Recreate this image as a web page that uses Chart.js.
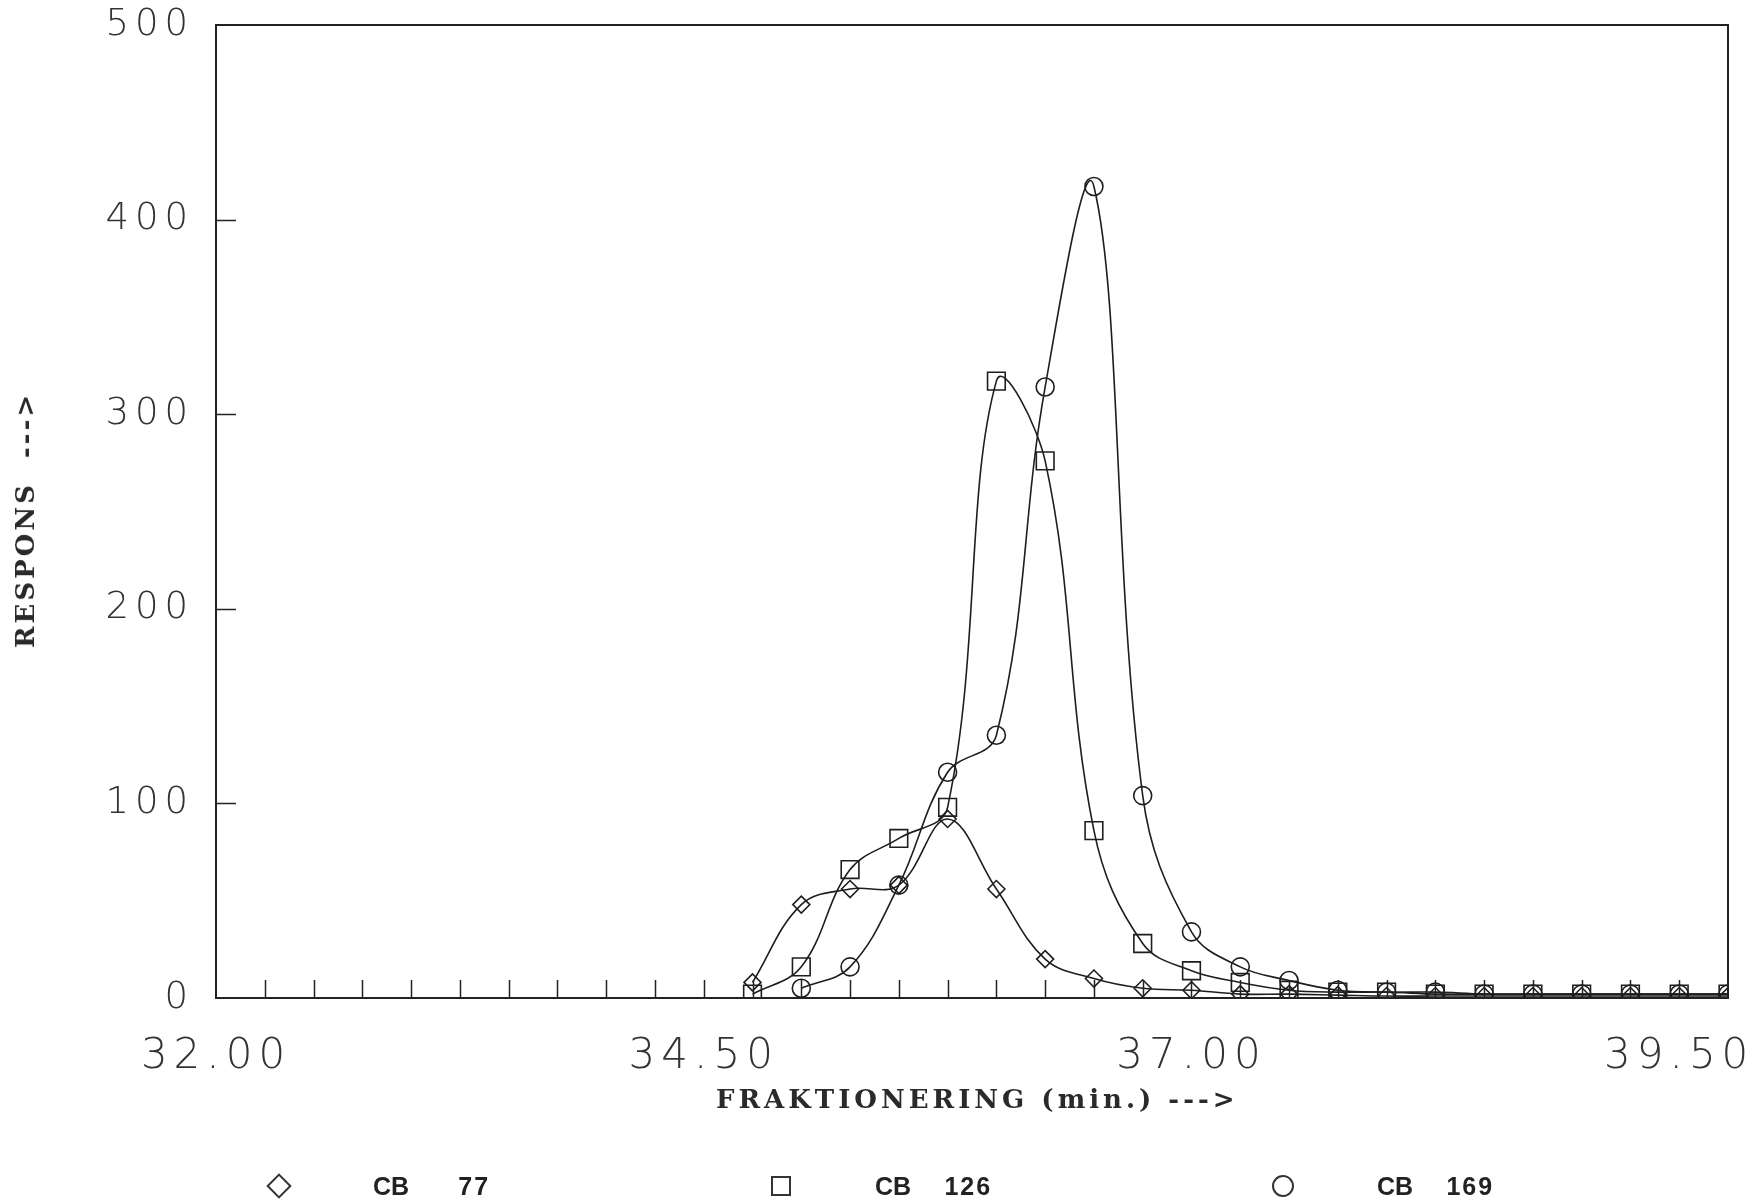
<!DOCTYPE html>
<html lang="sv">
<head>
<meta charset="utf-8">
<title>Respons mot fraktionering</title>
<script src="https://cdn.jsdelivr.net/npm/chart.js@4.4.1/dist/chart.umd.min.js"></script>
<style>
    html, body { margin: 0; padding: 0; background: #fff; }
    #ram { position: relative; width: 1754px; height: 1202px; background: #fff; overflow: hidden; }
    #ram canvas { position: absolute; left: 0; top: 0; }
    .axeltitel { position: absolute; font-family: 'DejaVu Serif', serif; font-weight: bold; color: #2a2a2a; white-space: pre; line-height: 26px; }
    #titel-x { left: 716px; top: 1086px; font-size: 26px; letter-spacing: 4px; }
    #titel-y { left: 25px; top: 520px; font-size: 26px; letter-spacing: 3px; transform: translate(-50%, -50%) rotate(-90deg); }
    #legend { position: absolute; left: 266px; top: 1173px; display: flex; }
    .post { width: 502px; height: 26px; display: flex; align-items: center; font-family: 'Liberation Sans', Arial, sans-serif; font-weight: bold; font-size: 25px; color: #222; }
    .symbol { position: relative; width: 26px; height: 26px; margin-right: 81px; flex: none; }
    .symbol::after { content: ''; position: absolute; box-sizing: border-box; border: 2px solid #333; }
    .romb::after { width: 18px; height: 18px; left: 4px; top: 4px; transform: rotate(45deg); }
    .kvadrat::after { width: 20px; height: 20px; left: 3px; top: 3px; }
    .cirkel::after { width: 22px; height: 22px; left: 2px; top: 2px; border-radius: 50%; }
    .nr { width: 81px; text-align: right; letter-spacing: 2px; }
</style>
</head>
<body>
<div id="ram">
    <canvas id="diagram"></canvas>
    <div id="titel-y" class="axeltitel">RESPONS  ---&gt;</div>
    <div id="titel-x" class="axeltitel">FRAKTIONERING (min.) ---&gt;</div>
    <div id="legend"></div>
</div>
<script>
// Värden
const fraktioner = [34.75, 35.00, 35.25, 35.50, 35.75, 36.00, 36.25, 36.50, 36.75, 37.00,
    37.25, 37.50, 37.75, 38.00, 38.25, 38.50, 38.75, 39.00, 39.25, 39.50, 39.75];
const cb77 = [8, 48, 56, 58, 92, 56, 20, 10, 5, 4, 2, 2, 1.5, 1, 1, 1, 1, 1, 1, 1, 1];
const cb126 = [2, 16, 66, 82, 98, 317, 276, 86, 28, 14, 8, 4, 3, 3, 2, 2, 2, 2, 2, 2, 2];
const cb169 = [null, 5, 16, 58, 116, 135, 314, 417, 104, 34, 16, 9, 4, 3, 3, 2, 2, 2, 2, 2, 2];
const serieNamn = ['CB 77', 'CB 126', 'CB 169'];
const xEtiketter = [32.00, 34.50, 37.00, 39.50];
const yEtiketter = [0, 100, 200, 300, 400, 500];

const markorer = ['rectRot', 'rect', 'circle'];
const markorKlass = ['romb', 'kvadrat', 'cirkel'];

document.addEventListener('DOMContentLoaded', function() {
    byggLegend();
    ritaDiagram();
});

// Legend under diagrammet
function byggLegend() {
    const legend = document.getElementById('legend');
    let html = '';
    serieNamn.forEach((namn, i) => {
        const delar = namn.split(' ');
        html += `
            <div class="post">
                <span class="symbol ${markorKlass[i]}"></span>
                <span>${delar[0]}</span>
                <span class="nr">${delar[1]}</span>
            </div>`;
    });
    legend.innerHTML = html;
}

function tillPunkter(varden) {
    return fraktioner.map((x, i) => ({ x: x, y: varden[i] }));
}

// Tickmarkeringar inåt och ram runt ritytan
const innerTicks = {
    id: 'innerTicks',
    afterDatasetsDraw(chart) {
        const { ctx, chartArea, scales } = chart;
        const x = scales.x;
        const y = scales.y;
        ctx.save();
        ctx.strokeStyle = '#222';
        ctx.lineWidth = 1.5;
        ctx.beginPath();
        x.ticks.forEach(t => {
            if (t.value > x.min + 1e-6 && t.value < x.max - 1e-6) {
                const px = Math.round(x.getPixelForValue(t.value)) + 0.5;
                ctx.moveTo(px, chartArea.bottom);
                ctx.lineTo(px, chartArea.bottom - 18);
            }
        });
        y.ticks.forEach(t => {
            if (t.value > y.min && t.value < y.max) {
                const py = Math.round(y.getPixelForValue(t.value)) + 0.5;
                ctx.moveTo(chartArea.left, py);
                ctx.lineTo(chartArea.left + 20, py);
            }
        });
        ctx.stroke();
        ctx.lineWidth = 2;
        ctx.strokeRect(chartArea.left, chartArea.top, chartArea.right - chartArea.left, chartArea.bottom - chartArea.top);
        ctx.restore();
    }
};

// Bredare teckenavstånd för axelsiffrorna
const teckenavstand = {
    id: 'teckenavstand',
    beforeLayout(chart) { chart.ctx.letterSpacing = '6px'; },
    beforeDraw(chart) { chart.ctx.letterSpacing = '6px'; }
};

function ritaDiagram() {
    const ctx = document.getElementById('diagram').getContext('2d');
    const serier = [cb77, cb126, cb169];
    const radier = [8.5, 12.5, 9];

    new Chart(ctx, {
        type: 'line',
        data: {
            datasets: serier.map((s, i) => ({
                label: serieNamn[i],
                data: tillPunkter(s),
                borderColor: '#1e1e1e',
                borderWidth: 1.6,
                tension: 0.38,
                fill: false,
                pointStyle: markorer[i],
                pointRadius: radier[i],
                pointBorderWidth: 1.6,
                pointBorderColor: '#1e1e1e',
                pointBackgroundColor: 'rgba(0,0,0,0)'
            }))
        },
        options: {
            responsive: true,
            maintainAspectRatio: false,
            animation: false,
            layout: { padding: { top: 25, right: 26, bottom: 0, left: 0 } },
            plugins: {
                legend: { display: false },
                tooltip: { enabled: false }
            },
            scales: {
                x: {
                    type: 'linear',
                    min: 32,
                    max: 39.75,
                    grid: { display: false, drawTicks: false },
                    border: { display: true, color: '#222', width: 2 },
                    ticks: {
                        stepSize: 0.25,
                        autoSkip: false,
                        maxRotation: 0,
                        padding: 34,
                        color: '#333',
                        font: { family: "'DejaVu Sans', sans-serif", size: 42, weight: 200 },
                        callback: function(value) {
                            return xEtiketter.some(e => Math.abs(e - value) < 1e-6) ? value.toFixed(2) : '';
                        }
                    },
                    afterFit: function(scale) {
                        scale.height = 204;
                        scale.paddingLeft = 0;
                        scale.paddingRight = 0;
                    }
                },
                y: {
                    min: 0,
                    max: 500,
                    grid: { display: false, drawTicks: false },
                    border: { display: true, color: '#222', width: 2 },
                    ticks: {
                        stepSize: 100,
                        padding: 22,
                        color: '#333',
                        font: { family: "'DejaVu Sans', sans-serif", size: 37, weight: 200 },
                        callback: function(value) {
                            return yEtiketter.includes(value) ? String(value) : '';
                        }
                    },
                    afterFit: function(scale) {
                        scale.width = 216;
                        scale.paddingTop = 0;
                        scale.paddingBottom = 0;
                    }
                }
            }
        },
        plugins: [innerTicks, teckenavstand]
    });
}
</script>
</body>
</html>
